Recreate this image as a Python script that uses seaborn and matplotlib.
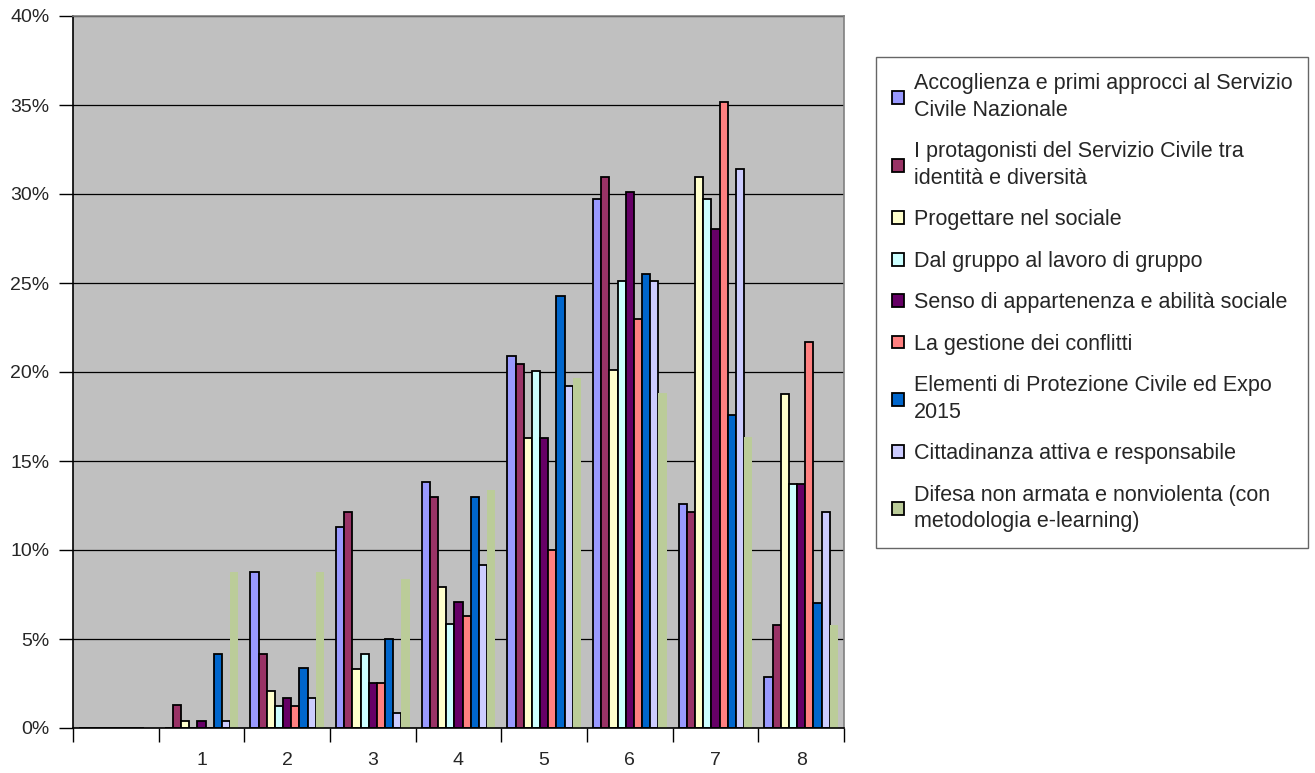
import pandas as pd
import matplotlib
matplotlib.use("Agg")
import matplotlib.pyplot as plt
import seaborn as sns
from matplotlib.ticker import PercentFormatter, FixedLocator, NullFormatter

# categorie (la prima è vuota)
categorie = ["", "1", "2", "3", "4", "5", "6", "7", "8"]

serie = [
    "Accoglienza e primi approcci al Servizio\nCivile Nazionale",
    "I protagonisti del Servizio Civile tra\nidentità e diversità",
    "Progettare nel sociale",
    "Dal gruppo al lavoro di gruppo",
    "Senso di appartenenza e abilità sociale",
    "La gestione dei conflitti",
    "Elementi di Protezione Civile ed Expo\n2015",
    "Cittadinanza attiva e responsabile",
    "Difesa non armata e nonviolenta (con\nmetodologia e-learning)",
]

# valori in percentuale
accoglienza = [0, 0, 8.76, 11.29, 13.80, 20.91, 29.71, 12.56, 2.89]
protagonisti = [0, 1.27, 4.17, 12.11, 12.98, 20.47, 30.93, 12.11, 5.77]
progettare = [0, 0.41, 2.08, 3.33, 7.94, 16.31, 20.09, 30.93, 18.77]
gruppo = [0, 0, 1.25, 4.17, 5.84, 20.05, 25.11, 29.71, 13.72]
appartenenza = [0, 0.41, 1.68, 2.53, 7.10, 16.31, 30.11, 28.02, 13.72]
conflitti = [0, 0, 1.25, 2.53, 6.27, 10.02, 23.00, 35.15, 21.70]
protezione = [0, 4.17, 3.37, 5.02, 12.98, 24.26, 25.51, 17.56, 7.03]
cittadinanza = [0, 0.41, 1.66, 0.84, 9.17, 19.21, 25.11, 31.38, 12.12]
difesa = [0, 8.76, 8.76, 8.37, 13.39, 19.65, 18.84, 16.33, 5.80]

colori = ["#9999FF", "#993366", "#FFFFCC", "#CCFFFF", "#660066",
          "#FF8080", "#0066CC", "#CCCCFF", "#BBCC99"]

valori = [accoglienza, protagonisti, progettare, gruppo, appartenenza,
          conflitti, protezione, cittadinanza, difesa]

righe = []
for nome, vals in zip(serie, valori):
    for c, v in zip(categorie, vals):
        righe.append([c, nome, v])
df = pd.DataFrame(righe, columns=["categoria", "serie", "valore"])

sns.set_style("white")
plt.rcParams['font.family'] = ['Liberation Sans', 'DejaVu Sans']
plt.rcParams['font.size'] = 14

fig = plt.figure(figsize=(13.15, 7.73), dpi=100)
ax = fig.add_axes([73 / 1315, 1 - 728 / 773, (844 - 73) / 1315, (728 - 16) / 773])
ax.set_facecolor("#C0C0C0")

sns.barplot(data=df, x="categoria", y="valore", hue="serie", order=categorie,
            hue_order=serie, palette=colori, errorbar=None, width=0.86,
            edgecolor="black", linewidth=1.3, saturation=1, ax=ax)

# l'ultima serie non ha bordo
for patch in ax.containers[-1]:
    patch.set_edgecolor("none")

ax.set_ylim(0, 40)
ax.set_xlim(-0.5, len(categorie) - 0.5)
ax.yaxis.set_major_formatter(PercentFormatter(xmax=100, decimals=0))
ax.set_yticks(range(0, 41, 5))
ax.grid(axis="y", color="black", linewidth=0.9)
ax.set_axisbelow(True)

# tacche dell'asse x tra le categorie
ax.xaxis.set_minor_locator(FixedLocator([i - 0.5 for i in range(len(categorie) + 1)]))
ax.xaxis.set_minor_formatter(NullFormatter())
ax.tick_params(axis="x", which="major", length=0, pad=17, labelsize=14)
ax.tick_params(axis="x", which="minor", length=10, width=1, color="black", direction="out", bottom=True)
ax.tick_params(axis="y", length=10, width=1, color="black", direction="out", left=True, labelsize=14, pad=7)
ax.set_xlabel("")
ax.set_ylabel("")

for lato in ["left", "bottom"]:
    ax.spines[lato].set_color("black")
    ax.spines[lato].set_linewidth(1.2)
for lato in ["top", "right"]:
    ax.spines[lato].set_color("#808080")
    ax.spines[lato].set_linewidth(1.2)

handles, labels = ax.get_legend_handles_labels()
ax.get_legend().remove()
leg = fig.legend(handles, labels, loc="upper left",
                 bbox_to_anchor=(876 / 1315, 1 - 57 / 773),
                 frameon=True, fancybox=False, edgecolor="#404040",
                 fontsize=15.5, handlelength=0.55, handleheight=0.55,
                 handletextpad=0.45, labelspacing=0.95, borderpad=0.75,
                 borderaxespad=0)
leg.get_frame().set_linewidth(1.0)
for t in leg.get_texts():
    t.set_linespacing(1.35)

fig.savefig("out.png", dpi=100)
